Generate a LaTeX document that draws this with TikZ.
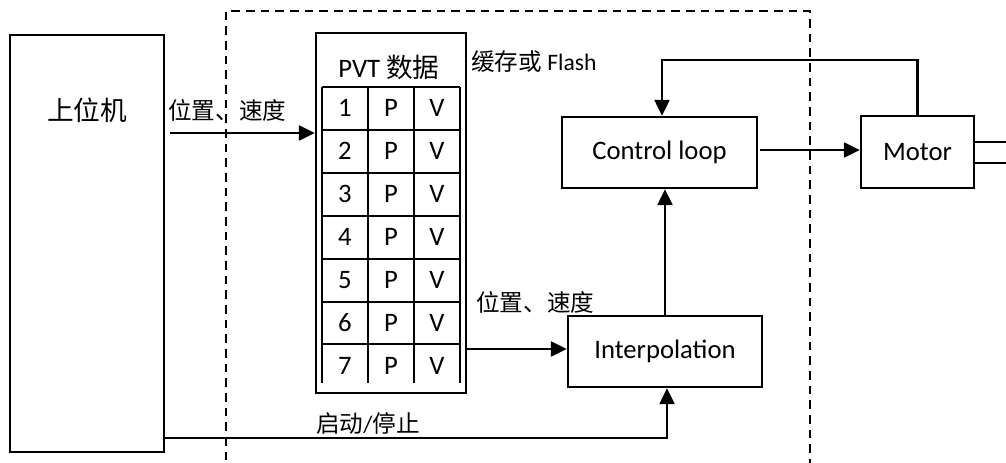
\documentclass[tikz,border=0pt]{standalone}
\usepackage{fontspec}
\setmainfont{Carlito}
\newfontfamily\cjk{Noto Sans CJK SC}
\usetikzlibrary{arrows.meta,calc}
\begin{document}
\begin{tikzpicture}[x=0.75pt,y=-0.75pt,
  box/.style={draw, line width=1.6pt, inner sep=0pt},
  grid/.style={line width=1.9pt},
  arr/.style={line width=2.2pt, -{Triangle[length=12pt,width=11pt]}},
  main/.style={font=\fontsize{20}{24}\selectfont, inner sep=0pt},
  lab/.style={font=\fontsize{17.7}{21}\selectfont, inner sep=0pt},
  zone/.style={line width=1.2pt, dash pattern=on 6.5pt off 4.5pt},
]
\useasboundingbox (0,0) rectangle (1006,463);

% drive boundary (open at the bottom)
\draw[zone] (226,475) -- (226,11) -- (810,11) -- (810,475);

% host computer
\node[box, minimum width=115.5pt, minimum height=312.75pt] (host) at (87,243.5) {};
\node[main] (hostlab) at (87,110) {\cjk 上位机};

% PVT buffer
\node[box, minimum width=112.5pt, minimum height=270pt] (pvt) at (391,213) {};
\node[main] (pvtlab) at (389,67) {PVT {\cjk 数据}};
\foreach \y in {87,130,173,216,259,302,344}
  \draw[grid] (322,\y) -- (460,\y);
\foreach \x in {322,368,414,460}
  \draw[grid] (\x,87) -- (\x,383);
\foreach \i in {1,...,7} {
  \node[main] (c\i) at (345,65+43*\i) {\i};
  \node[main] (p\i) at (391,65+43*\i) {P};
  \node[main] (v\i) at (437,65+43*\i) {V};
}
\node[lab, anchor=west] (mem) at (471,62) {{\cjk 缓存或} Flash};

% control blocks
\node[box, main, minimum width=146.25pt, minimum height=53.25pt] (ctrl) at (659.5,152.5) {Control loop};
\node[box, main, minimum width=84.75pt, minimum height=54pt] (motor) at (917.5,152) {Motor};
\node[box, main, minimum width=145.5pt, minimum height=53.25pt] (interp) at (665,351.5) {Interpolation};

% motor shaft
\coordinate (s1) at (1010,142);
\coordinate (s2) at (1010,163);
\draw[line width=1.5pt] (motor.east |- s1) -- (s1);
\draw[line width=1.5pt] (motor.east |- s2) -- (s2);

% host -> PVT
\coordinate (a0) at (170,133);
\draw[arr] (a0) -- (a0 -| pvt.west);
\node[lab, anchor=west] (l1) at (168,110) {\cjk 位置、速度};

% PVT -> interpolation
\coordinate (b0) at (467,349);
\draw[arr] (b0) -- (b0 -| interp.west);
\node[lab, anchor=west] (l2) at (476,302) {\cjk 位置、速度};

% interpolation -> control loop
\draw[arr] (interp.north) -- (interp.north |- ctrl.south);

% control loop -> motor
\coordinate (m0) at (760,150);
\draw[arr] (m0) -- (m0 -| motor.west);

% feedback
\coordinate (fb) at (662,60);
\draw[arr] (motor.north) |- (fb) -- (fb |- ctrl.north);

% start / stop
\coordinate (st) at (667,438);
\draw[arr] (host.east |- st) -- (st) -- (st |- interp.south);
\node[lab] (l3) at (368,423) {{\cjk 启动}/{\cjk 停止}};
\end{tikzpicture}
\end{document}
